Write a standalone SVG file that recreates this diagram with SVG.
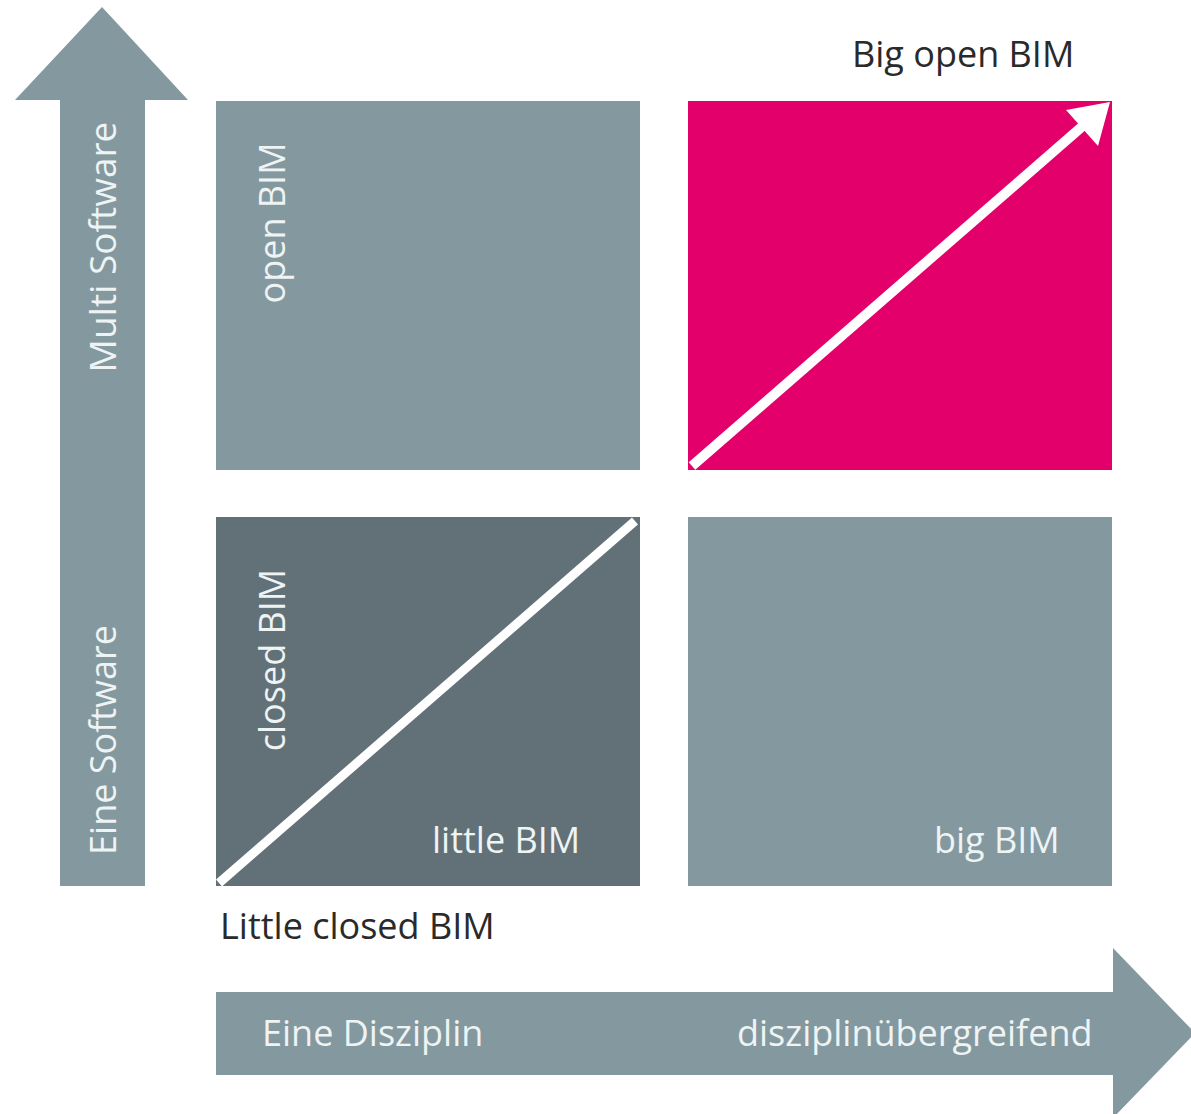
<svg xmlns="http://www.w3.org/2000/svg" width="1191" height="1114" viewBox="0 0 1191 1114">
<style>
.lg{fill:#84989f}
.dk{fill:#617177}
.pk{fill:#e3006a}
.t{font-family:"Open Sans","Liberation Sans",sans-serif;font-size:36px}
.w{fill:#eef3f4}
.b{fill:#2a2a2a}
</style>
<rect width="1191" height="1114" fill="#ffffff"/>
<g id="axis-y">
<polygon class="lg" points="102,7 188,100 145,100 145,886 60,886 60,100 15,100"/>
<text class="t w" transform="translate(116,247) rotate(-90)" text-anchor="middle" style="font-size:37px">Multi Software</text>
<text class="t w" transform="translate(116,740) rotate(-90)" text-anchor="middle">Eine Software</text>
</g>
<g id="axis-x">
<polygon class="lg" points="216,992 1113,992 1113,948 1195,1033 1113,1118 1113,1075 216,1075"/>
<text class="t w" x="262" y="1046">Eine Disziplin</text>
<text class="t w" x="737" y="1046">disziplinübergreifend</text>
</g>
<g id="open-bim">
<rect class="lg" x="216" y="101" width="424" height="369"/>
<text class="t w" transform="translate(285,223) rotate(-90)" text-anchor="middle">open BIM</text>
</g>
<g id="big-open-bim">
<rect class="pk" x="688" y="101" width="424" height="369"/>
</g>
<g id="closed-bim">
<rect class="dk" x="216" y="517" width="424" height="369"/>
<text class="t w" transform="translate(285,660) rotate(-90)" text-anchor="middle">closed BIM</text>
<text class="t w" x="432" y="853">little BIM</text>
</g>
<g id="big-bim">
<rect class="lg" x="688" y="517" width="424" height="369"/>
<text class="t w" x="934" y="853">big BIM</text>
</g>
<g id="connectors">
<line x1="692" y1="466" x2="1085" y2="124" stroke="#ffffff" stroke-width="10"/>
<polygon points="1110,102 1098,146 1066,110" fill="#ffffff"/>
<line x1="219" y1="883" x2="635" y2="521" stroke="#ffffff" stroke-width="9"/>
</g>
<g id="labels">
<text class="t b" x="852" y="67">Big open BIM</text>
<text class="t b" x="220" y="939">Little closed BIM</text>
</g>
</svg>
